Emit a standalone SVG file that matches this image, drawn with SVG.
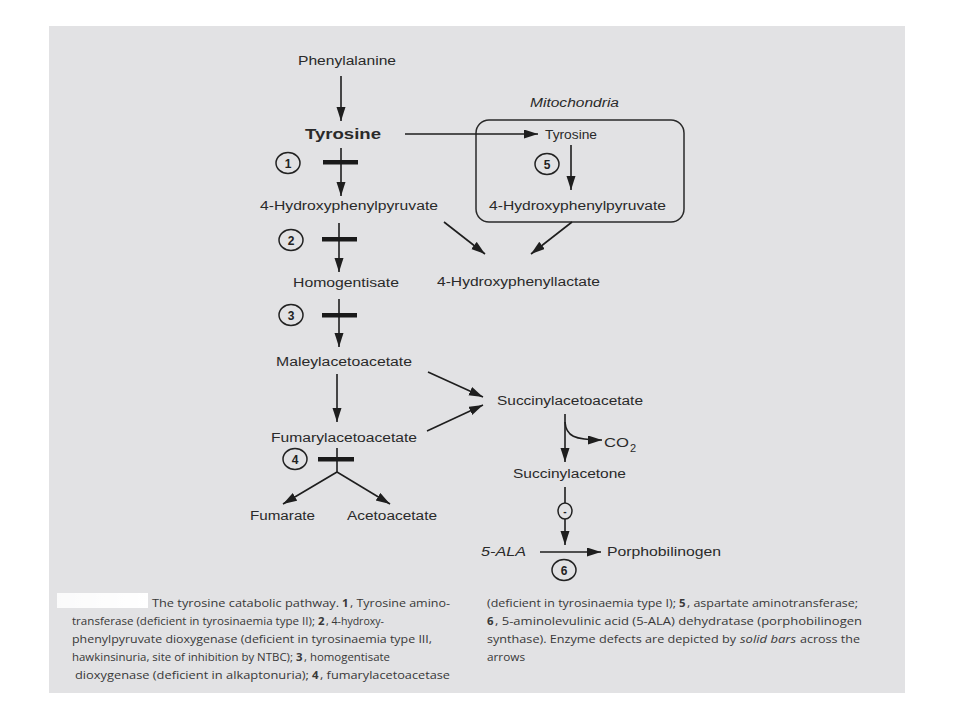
<svg xmlns="http://www.w3.org/2000/svg" width="960" height="720" viewBox="0 0 960 720">
<defs>
<marker id="ah" markerUnits="userSpaceOnUse" markerWidth="16" markerHeight="10" refX="14" refY="4.5" orient="auto">
<path d="M0,0 L14,4.5 L0,9 z" fill="#1e1e1e"/>
</marker>
<linearGradient id="wp" x1="0" x2="1" y1="0" y2="0">
<stop offset="0" stop-color="#ffffff" stop-opacity="0.85"/>
<stop offset="1" stop-color="#ffffff" stop-opacity="1"/>
</linearGradient>
</defs>
<style>
.t{font-family:"Liberation Sans",Arial,sans-serif;font-size:12.5px;fill:#2a2a2a}
.b{font-weight:bold;font-size:15px}
.i{font-style:italic}
.n{font-family:"Liberation Sans",Arial,sans-serif;font-size:12px;font-weight:bold;fill:#222;text-anchor:middle}
.c{font-family:"Open Sans","Noto Sans",sans-serif;font-size:11.4px;fill:#383838}
.cb{font-weight:bold}
.ln{stroke:#1e1e1e;stroke-width:1.6;fill:none}
.ar{stroke:#1e1e1e;stroke-width:1.6;fill:none;marker-end:url(#ah)}
.ci{fill:none;stroke:#222;stroke-width:1.5}
.bar{fill:#1a1a1a}
</style>
<rect x="0" y="0" width="960" height="720" fill="#ffffff"/>
<rect x="49" y="26" width="856" height="667" fill="#e2e2e4"/>
<rect x="57" y="593" width="91" height="15" fill="url(#wp)"/>

<g id="mitochondria">
<rect x="476" y="120" width="208" height="102" rx="13" ry="13" fill="none" stroke="#2a2a2a" stroke-width="1.5"/>
<text class="t i" x="530" y="107" textLength="89" lengthAdjust="spacingAndGlyphs">Mitochondria</text>
</g>

<g id="connectors">
<line class="ar" x1="341" y1="76" x2="341" y2="121"/>
<line class="ar" x1="405" y1="134" x2="538" y2="134"/>
<line class="ar" x1="341" y1="148" x2="341" y2="196"/>
<line class="ar" x1="571" y1="145" x2="571" y2="190"/>
<line class="ar" x1="444" y1="222" x2="485" y2="254"/>
<line class="ar" x1="572" y1="222" x2="531" y2="254"/>
<line class="ar" x1="339" y1="223" x2="339" y2="272"/>
<line class="ar" x1="339" y1="299" x2="339" y2="347"/>
<line class="ar" x1="337" y1="374" x2="337" y2="422"/>
<line class="ln" x1="337" y1="448" x2="337" y2="472"/>
<line class="ar" x1="337" y1="472" x2="283" y2="504"/>
<line class="ar" x1="337" y1="472" x2="390" y2="504"/>
<line class="ar" x1="428" y1="372" x2="483" y2="397"/>
<line class="ar" x1="427" y1="431" x2="483" y2="405"/>
<line class="ar" x1="565" y1="414" x2="565" y2="462"/>
<path class="ar" d="M565,422 C566,436 574,440 602,440"/>
<line class="ln" x1="565" y1="487" x2="565" y2="503"/>
<line class="ar" x1="565" y1="519" x2="565" y2="545"/>
<line class="ar" x1="540" y1="552" x2="601" y2="552"/>
<rect class="bar" x="323" y="160" width="35" height="4.5"/>
<rect class="bar" x="322" y="237" width="35" height="4.5"/>
<rect class="bar" x="322" y="313" width="35" height="4.5"/>
<rect class="bar" x="318" y="457" width="36" height="4.5"/>
</g>

<g id="phenylalanine"><text class="t" x="298" y="65" textLength="98" lengthAdjust="spacingAndGlyphs">Phenylalanine</text></g>
<g id="tyrosine"><text class="t b" x="305" y="139" textLength="76" lengthAdjust="spacingAndGlyphs">Tyrosine</text></g>
<g id="tyrosine-mito"><text class="t" x="545" y="139" textLength="52" lengthAdjust="spacingAndGlyphs">Tyrosine</text></g>
<g id="hpp"><text class="t" x="260" y="210" textLength="178" lengthAdjust="spacingAndGlyphs">4-Hydroxyphenylpyruvate</text></g>
<g id="hpp-mito"><text class="t" x="489" y="210" textLength="177" lengthAdjust="spacingAndGlyphs">4-Hydroxyphenylpyruvate</text></g>
<g id="hpl"><text class="t" x="437" y="286" textLength="163" lengthAdjust="spacingAndGlyphs">4-Hydroxyphenyllactate</text></g>
<g id="homogentisate"><text class="t" x="293" y="287" textLength="106" lengthAdjust="spacingAndGlyphs">Homogentisate</text></g>
<g id="maleylacetoacetate"><text class="t" x="276" y="366" textLength="136" lengthAdjust="spacingAndGlyphs">Maleylacetoacetate</text></g>
<g id="fumarylacetoacetate"><text class="t" x="271" y="442" textLength="146" lengthAdjust="spacingAndGlyphs">Fumarylacetoacetate</text></g>
<g id="fumarate"><text class="t" x="250" y="520" textLength="65" lengthAdjust="spacingAndGlyphs">Fumarate</text></g>
<g id="acetoacetate"><text class="t" x="347" y="520" textLength="90" lengthAdjust="spacingAndGlyphs">Acetoacetate</text></g>
<g id="succinylacetoacetate"><text class="t" x="497" y="405" textLength="146" lengthAdjust="spacingAndGlyphs">Succinylacetoacetate</text></g>
<g id="co2"><text class="t" x="604" y="447" textLength="25" lengthAdjust="spacingAndGlyphs">CO</text><text class="t" x="630" y="452" style="font-size:11px">2</text></g>
<g id="succinylacetone"><text class="t" x="513" y="478" textLength="113" lengthAdjust="spacingAndGlyphs">Succinylacetone</text></g>
<g id="inhibition"><ellipse class="ci" cx="565" cy="511" rx="7" ry="8"/><text class="n" x="565" y="515" style="font-size:10px">-</text></g>
<g id="ala"><text class="t i" x="481" y="556" textLength="45" lengthAdjust="spacingAndGlyphs">5-ALA</text></g>
<g id="porphobilinogen"><text class="t" x="607" y="556" textLength="114" lengthAdjust="spacingAndGlyphs">Porphobilinogen</text></g>

<g id="enzyme1"><ellipse class="ci" cx="288" cy="163" rx="12" ry="10.5"/><text class="n" x="288" y="167.5">1</text></g>
<g id="enzyme2"><ellipse class="ci" cx="291" cy="240" rx="12" ry="10.5"/><text class="n" x="291" y="244.5">2</text></g>
<g id="enzyme3"><ellipse class="ci" cx="291" cy="315" rx="12" ry="10.5"/><text class="n" x="291" y="319.5">3</text></g>
<g id="enzyme4"><ellipse class="ci" cx="295" cy="459" rx="12" ry="10.5"/><text class="n" x="295" y="463.5">4</text></g>
<g id="enzyme5"><ellipse class="ci" cx="547" cy="164" rx="12" ry="10.5"/><text class="n" x="547" y="168.5">5</text></g>
<g id="enzyme6"><ellipse class="ci" cx="564" cy="570" rx="12" ry="10.5"/><text class="n" x="564" y="574.5">6</text></g>

<g id="caption">
<text class="c" x="152" y="607" textLength="187" lengthAdjust="spacingAndGlyphs">The tyrosine catabolic pathway.</text>
<text class="c cb" x="342" y="607">1</text>
<text class="c" x="350" y="607" textLength="100" lengthAdjust="spacingAndGlyphs">, Tyrosine amino-</text>

<text class="c" x="72" y="625" textLength="243" lengthAdjust="spacingAndGlyphs">transferase (deficient in tyrosinaemia type II);</text>
<text class="c cb" x="318" y="625">2</text>
<text class="c" x="326" y="625" textLength="58" lengthAdjust="spacingAndGlyphs">, 4-hydroxy-</text>

<text class="c" x="72" y="643" textLength="360" lengthAdjust="spacingAndGlyphs">phenylpyruvate dioxygenase (deficient in tyrosinaemia type III,</text>

<text class="c" x="72" y="661" textLength="221" lengthAdjust="spacingAndGlyphs">hawkinsinuria, site of inhibition by NTBC);</text>
<text class="c cb" x="296" y="661">3</text>
<text class="c" x="304" y="661" textLength="86" lengthAdjust="spacingAndGlyphs">, homogentisate</text>

<text class="c" x="75" y="679" textLength="234" lengthAdjust="spacingAndGlyphs">dioxygenase (deficient in alkaptonuria);</text>
<text class="c cb" x="312" y="679">4</text>
<text class="c" x="320" y="679" textLength="130" lengthAdjust="spacingAndGlyphs">, fumarylacetoacetase</text>

<text class="c" x="487" y="607" textLength="189" lengthAdjust="spacingAndGlyphs">(deficient in tyrosinaemia type I);</text>
<text class="c cb" x="679" y="607">5</text>
<text class="c" x="687" y="607" textLength="171" lengthAdjust="spacingAndGlyphs">, aspartate aminotransferase;</text>

<text class="c cb" x="487" y="625">6</text>
<text class="c" x="495" y="625" textLength="367" lengthAdjust="spacingAndGlyphs">, 5-aminolevulinic acid (5-ALA) dehydratase (porphobilinogen</text>

<text class="c" x="487" y="643" textLength="249" lengthAdjust="spacingAndGlyphs">synthase). Enzyme defects are depicted by</text>
<text class="c i" x="740" y="643" textLength="56" lengthAdjust="spacingAndGlyphs">solid bars</text>
<text class="c" x="800" y="643" textLength="60" lengthAdjust="spacingAndGlyphs">across the</text>

<text class="c" x="487" y="661" textLength="38" lengthAdjust="spacingAndGlyphs">arrows</text>
</g>
</svg>
